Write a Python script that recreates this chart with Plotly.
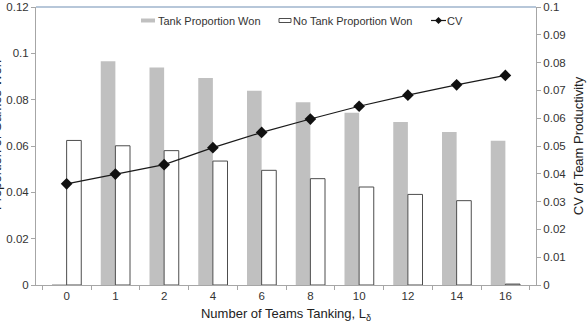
import plotly.graph_objects as go

categories = ["0", "1", "2", "4", "6", "8", "10", "12", "14", "16"]
tank_won = [0.0004, 0.0966, 0.0939, 0.0894, 0.0838, 0.0789, 0.0744, 0.0704, 0.0660, 0.0623]
no_tank_won = [0.0624, 0.0601, 0.0580, 0.0535, 0.0495, 0.0459, 0.0423, 0.0391, 0.0364, 0.0004]
cv = [0.0364, 0.0399, 0.0433, 0.0494, 0.0549, 0.0597, 0.0643, 0.0683, 0.0720, 0.0754]
legend_labels = ["Tank Proportion Won", "No Tank Proportion Won", "CV"]

FONT = "Liberation Sans, Arial, sans-serif"
AX = "#a6a6a6"
TXT = "#333333"

# plot area in page pixels
L, R, T, B = 36, 536, 7, 285
W, H = R - L, B - T


def px(x):
    return (x - L) / W


def py(y):
    return (B - y) / H


fig = go.Figure()
fig.add_trace(go.Bar(x=categories, y=tank_won, name=legend_labels[0],
                     marker=dict(color="#c0c0c0", line=dict(width=0))))
fig.add_trace(go.Bar(x=categories, y=no_tank_won, name=legend_labels[1],
                     marker=dict(color="white", line=dict(color="#4d4d4d", width=1))))
fig.add_trace(go.Scatter(x=categories, y=cv, name=legend_labels[2], yaxis="y2",
                         mode="lines+markers",
                         line=dict(color="#1a1a1a", width=1.2),
                         marker=dict(symbol="diamond", size=9, color="#111111")))

ly = 20.5  # legend row centre (page px)
shapes = [
    dict(type="line", xref="paper", yref="paper", x0=0, x1=1, y0=1, y1=1,
         line=dict(color="#9fb4cc", width=1.5)),
    # legend swatches
    dict(type="rect", xref="paper", yref="paper", x0=px(141), x1=px(155),
         y0=py(ly + 2), y1=py(ly - 2), fillcolor="#c0c0c0", line=dict(width=0)),
    dict(type="rect", xref="paper", yref="paper", x0=px(279), x1=px(291),
         y0=py(ly + 2), y1=py(ly - 2), fillcolor="white",
         line=dict(color="#4d4d4d", width=1)),
    dict(type="line", xref="paper", yref="paper", x0=px(431), x1=px(446),
         y0=py(ly), y1=py(ly), line=dict(color="#1a1a1a", width=1.2)),
    dict(type="path", xref="paper", yref="paper",
         path=f"M {px(438.5)},{py(ly - 3.5)} L {px(442)},{py(ly)} L {px(438.5)},{py(ly + 3.5)} "
              f"L {px(435)},{py(ly)} Z",
         fillcolor="#111111", line=dict(width=0)),
]

annotations = [
    dict(text="Proportion of Games Won", xref="paper", yref="paper",
         x=px(-4), y=py(135), xanchor="center", yanchor="middle", textangle=-90,
         showarrow=False, font=dict(size=13, color="#222222")),
    dict(text=legend_labels[0], xref="paper", yref="paper", x=px(156), y=py(ly),
         xanchor="left", yanchor="middle", showarrow=False,
         font=dict(size=11, color=TXT)),
    dict(text=legend_labels[1], xref="paper", yref="paper", x=px(291), y=py(ly),
         xanchor="left", yanchor="middle", showarrow=False,
         font=dict(size=11, color=TXT)),
    dict(text=legend_labels[2], xref="paper", yref="paper", x=px(445), y=py(ly),
         xanchor="left", yanchor="middle", showarrow=False,
         font=dict(size=11, color=TXT)),
]

fig.update_layout(
    width=587, height=325,
    margin=dict(l=L, r=587 - R, t=T, b=325 - B, autoexpand=False),
    paper_bgcolor="white", plot_bgcolor="white",
    font=dict(family=FONT, size=11, color=TXT),
    barmode="group", bargap=0.4, bargroupgap=0,
    showlegend=False,
    xaxis=dict(type="category", showline=True, linecolor=AX, linewidth=1,
               ticks="outside", tickson="boundaries", ticklen=4, tickcolor=AX,
               showgrid=False, zeroline=False,
               tickfont=dict(size=11.5, color=TXT),
               title=dict(text="Number of Teams Tanking, L<sub>δ</sub>",
                          font=dict(size=13, color="#222222"), standoff=8)),
    yaxis=dict(range=[0, 0.12], dtick=0.02, showline=True, linecolor=AX, linewidth=1,
               ticks="outside", ticklen=4, tickcolor=AX, showgrid=False, zeroline=False,
               tickfont=dict(size=11.5, color=TXT)),
    yaxis2=dict(range=[0, 0.1], dtick=0.01, overlaying="y", side="right",
                showline=True, linecolor=AX, linewidth=1, ticks="outside", ticklen=4,
                tickcolor=AX, showgrid=False, zeroline=False,
                tickfont=dict(size=11.5, color=TXT),
                title=dict(text="CV of Team Productivity",
                           font=dict(size=13, color="#222222"), standoff=8)),
    shapes=shapes,
    annotations=annotations,
)

fig.write_html("out.html")
